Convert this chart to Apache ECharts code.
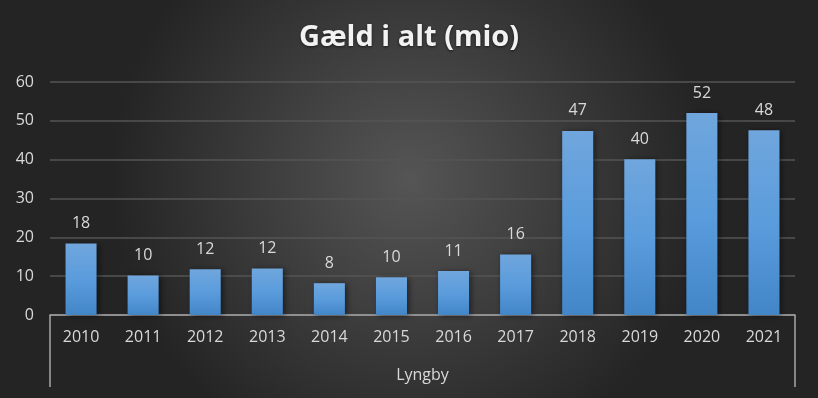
<!DOCTYPE html>
<html>
<head>
<meta charset="utf-8">
<script src="https://cdn.jsdelivr.net/npm/echarts@6/dist/echarts.min.js"></script>
<style>
  html, body { margin: 0; padding: 0; }
  #chart { width: 818px; height: 398px; }
</style>
</head>
<body>
<div id="chart"></div>
<script>
const years = ['2010', '2011', '2012', '2013', '2014', '2015', '2016', '2017', '2018', '2019', '2020', '2021'];
const gaeld = [18.4, 10.2, 11.8, 12.0, 8.2, 9.7, 11.3, 15.6, 47.4, 40.1, 52.0, 47.6];
const group = ['Lyngby'];
const yTicks = { min: 0, max: 60, interval: 10 };

const font = "'Open Sans', sans-serif";
const chart = echarts.init(document.getElementById('chart'));

chart.setOption({
  backgroundColor: new echarts.graphic.RadialGradient(0.5, 0.45, 0.75, [
    { offset: 0, color: '#555555' },
    { offset: 1, color: '#242424' },
  ]),
  title: {
    text: 'Gæld i alt (mio)',
    left: 'center',
    top: 18,
    textStyle: {
      fontFamily: font,
      fontSize: 29,
      fontWeight: 'bold',
      color: '#f2f2f2',
      textShadowColor: 'rgba(0,0,0,0.6)',
      textShadowBlur: 3,
      textShadowOffsetY: 1,
    },
  },
  grid: {
    left: 50,
    right: 23,
    top: 82,
    bottom: 83,
    containLabel: false,
  },
  xAxis: [
    {
      type: 'category',
      data: years,
      axisLine: { lineStyle: { color: '#a6a6a6', width: 1.5 } },
      axisTick: { show: false },
      axisLabel: { color: '#d9d9d9', fontSize: 16, fontFamily: font, margin: 14 },
    },
    {
      type: 'category',
      data: group,
      position: 'bottom',
      axisLine: { show: false },
      axisTick: { show: true, length: 72, lineStyle: { color: '#a6a6a6', width: 1.5 } },
      axisLabel: { color: '#d9d9d9', fontSize: 16, fontFamily: font, margin: 52 },
    },
  ],
  yAxis: {
    type: 'value',
    min: yTicks.min,
    max: yTicks.max,
    interval: yTicks.interval,
    axisLine: { show: false },
    axisTick: { show: false },
    axisLabel: { color: '#d9d9d9', fontSize: 16, fontFamily: font, margin: 16 },
    splitLine: { lineStyle: { color: '#555555', width: 1.5 } },
  },
  series: [
    {
      type: 'bar',
      data: gaeld,
      barWidth: '50%',
      itemStyle: {
        color: new echarts.graphic.LinearGradient(0, 0, 0, 1, [
          { offset: 0, color: '#70a6dd' },
          { offset: 0.5, color: '#5a9cdc' },
          { offset: 1, color: '#4386c8' },
        ]),
        shadowColor: 'rgba(0,0,0,0.5)',
        shadowBlur: 6,
        shadowOffsetX: 2,
        shadowOffsetY: 1,
      },
      label: {
        show: true,
        position: 'top',
        distance: 12,
        color: '#d9d9d9',
        fontSize: 16,
        fontFamily: font,
        formatter: (p) => Math.round(p.value),
      },
    },
  ],
});
</script>
</body>
</html>
